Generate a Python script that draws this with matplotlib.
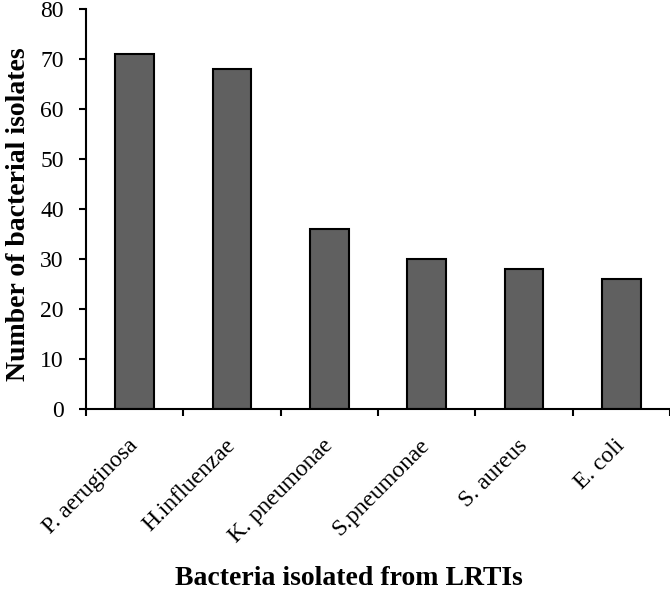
import numpy as np
import matplotlib
matplotlib.use('Agg')
from matplotlib import pyplot as plt

#%% DATA

bacteria = ['P. aeruginosa', 'H.influenzae', 'K. pneumonae',
            'S.pneumonae', 'S. aureus', 'E. coli']
isolates = [71, 68, 36, 30, 28, 26]
y_ticks = [0, 10, 20, 30, 40, 50, 60, 70, 80]

#%% PLOT

plt.rcParams['font.family'] = ['Liberation Serif', 'DejaVu Serif']

fig = plt.figure(figsize=(6.7, 5.9), dpi=100)
ax = fig.add_axes([0.1284, 0.3068, 0.8716, 0.678])

x = np.arange(len(bacteria))
ax.bar(x, isolates, width=0.40, color='#606060', edgecolor='black',
       linewidth=1.5)

ax.set_xlim(-0.5, len(bacteria) - 0.5)
ax.set_ylim(0, 80)
ax.set_yticks(y_ticks)
ax.tick_params(axis='y', labelsize=17, direction='out', length=5, width=1.5,
               pad=11)

# tick marks between categories, labels at centres
ax.set_xticks(np.arange(len(bacteria) + 1) - 0.5)
ax.set_xticklabels([])
ax.set_xticks(x, minor=True)
ax.set_xticklabels(bacteria, minor=True, rotation=45, ha='right',
                   va='center', rotation_mode='anchor', fontsize=17)
ax.tick_params(axis='x', which='major', direction='out', length=5, width=1.5)
ax.tick_params(axis='x', which='minor', length=0, pad=24)

for side in ['top', 'right']:
    ax.spines[side].set_visible(False)
for side in ['left', 'bottom']:
    ax.spines[side].set_linewidth(1.5)

ax.set_ylabel('Number of bacterial isolates', fontsize=20, fontweight='bold')
ax.yaxis.set_label_coords(-0.094, 0.4875)
fig.text(0.521, 0.008, 'Bacteria isolated from LRTIs', fontsize=20,
         fontweight='bold', ha='center', va='baseline')

fig.savefig('out.png', dpi=100)
